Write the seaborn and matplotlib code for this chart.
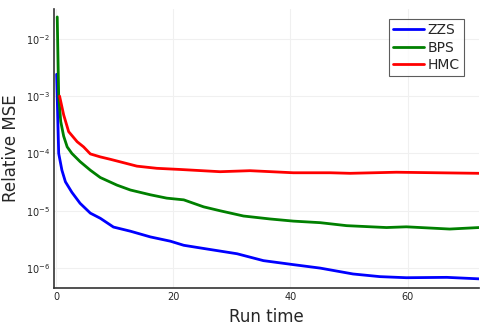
import pandas as pd
import seaborn as sns
import matplotlib.pyplot as plt

# valores (erro quadratico medio relativo vs tempo)
zzs_t = [0.1, 0.45, 1.0, 1.6, 2.7, 4.1, 5.85, 7.55, 9.8, 12.7, 16.1, 19.5, 21.8,
         25.2, 30.9, 35.4, 40.5, 45.1, 50.7, 55.3, 59.8, 66.7, 72.2]
zzs_mse = [2.4e-3, 1.0e-4, 5.1e-5, 3.2e-5, 2.1e-5, 1.35e-5, 9.1e-6, 7.4e-6, 5.2e-6,
           4.4e-6, 3.5e-6, 2.95e-6, 2.5e-6, 2.2e-6, 1.78e-6, 1.35e-6, 1.15e-6,
           1.0e-6, 7.9e-7, 7.1e-7, 6.8e-7, 6.9e-7, 6.5e-7]

bps_t = [0.2, 0.45, 0.8, 1.3, 1.9, 2.7, 4.1, 5.85, 7.55, 10.4, 12.7, 16.1, 18.9,
         21.8, 25.2, 28, 32, 36.5, 40.5, 45.1, 49.6, 56.4, 59.8, 67.2, 72.2]
bps_mse = [2.4e-2, 1.0e-3, 3.6e-4, 2.0e-4, 1.3e-4, 1.0e-4, 7.2e-5, 5.1e-5, 3.8e-5,
           2.8e-5, 2.3e-5, 1.9e-5, 1.66e-5, 1.55e-5, 1.17e-5, 1.0e-5, 8.1e-6,
           7.2e-6, 6.6e-6, 6.2e-6, 5.5e-6, 5.1e-6, 5.25e-6, 4.8e-6, 5.1e-6]

hmc_t = [0.6, 1.3, 2.15, 3.6, 4.7, 5.85, 7.55, 9.26, 11.5, 13.8, 17.2, 21.2, 28,
         33.1, 40.5, 46.8, 50.2, 58.1, 65, 72.2]
hmc_mse = [1.0e-3, 4.7e-4, 2.4e-4, 1.6e-4, 1.3e-4, 9.8e-5, 8.7e-5, 7.9e-5, 6.9e-5,
           6.0e-5, 5.5e-5, 5.25e-5, 4.8e-5, 5.0e-5, 4.6e-5, 4.6e-5, 4.5e-5,
           4.7e-5, 4.6e-5, 4.5e-5]

metodos = ["ZZS", "BPS", "HMC"]
cores = {"ZZS": "#0000ff", "BPS": "#008000", "HMC": "#ff0000"}

df = pd.concat([
    pd.DataFrame({"t": zzs_t, "mse": zzs_mse, "metodo": "ZZS"}),
    pd.DataFrame({"t": bps_t, "mse": bps_mse, "metodo": "BPS"}),
    pd.DataFrame({"t": hmc_t, "mse": hmc_mse, "metodo": "HMC"}),
])

sns.set_theme(style="white")
plt.rcParams['font.family'] = ['DejaVu Sans']

fig = plt.figure(figsize=(4.88, 3.26), dpi=100)
ax = fig.add_axes([54 / 488, 38 / 326, 425 / 488, 279 / 326])

sns.lineplot(data=df, x="t", y="mse", hue="metodo", hue_order=metodos,
             palette=cores, estimator=None, sort=False, linewidth=2.0, ax=ax)

ax.set_yscale("log")
ax.set_xlim(-0.35, 72.2)
ax.set_ylim(4.5e-7, 3.3e-2)
ax.set_xticks([0, 20, 40, 60])
ax.set_yticks([1e-6, 1e-5, 1e-4, 1e-3, 1e-2])
ax.minorticks_off()
ax.grid(True, color="#f0f0f0", linewidth=0.8)
ax.tick_params(direction="in", length=3, width=0.8, labelsize=7, color="#333333",
               pad=3)

for lado in ["top", "right"]:
    ax.spines[lado].set_visible(False)
for lado in ["left", "bottom"]:
    ax.spines[lado].set_color("#333333")
    ax.spines[lado].set_linewidth(1.2)

ax.set_xlabel("Run time", fontsize=12)
ax.set_ylabel("Relative MSE", fontsize=12)

leg = ax.legend(loc="upper right", bbox_to_anchor=(0.965, 0.965), fontsize=10,
                frameon=True, fancybox=False, edgecolor="#333333",
                handlelength=2.2, handletextpad=0.3, borderpad=0.3,
                labelspacing=0.26, borderaxespad=0)
leg.get_frame().set_linewidth(0.8)
for linha in leg.get_lines():
    linha.set_linewidth(2.0)

fig.savefig("out.png", dpi=100)
